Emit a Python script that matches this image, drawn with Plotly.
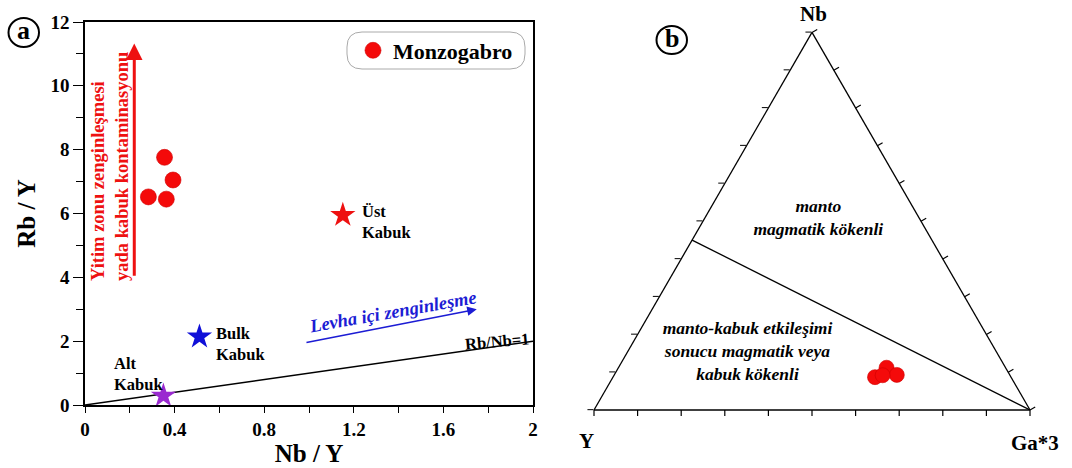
import math
import plotly.graph_objects as go

W, H = 1072, 468

# ---------------- Panel (a) data ----------------
monzo_nb_y = [0.283, 0.363, 0.355, 0.393]
monzo_rb_y = [6.52, 6.45, 7.76, 7.05]

crust_names = ["Üst<br>Kabuk", "Bulk<br>Kabuk", "Alt<br>Kabuk"]
crust_nb_y = [1.151, 0.511, 0.350]
crust_rb_y = [5.95, 2.14, 0.29]
crust_colors = ["#ee1111", "#1010d8", "#9a2ad0"]
crust_label_x = [1.228, 0.575, 0.119]
crust_label_y = [5.72, 1.90, 0.97]

ref_line_nb_y = [0, 2]
ref_line_rb_y = [0, 2]   # Rb/Nb = 1

red_arrow_x = [0.22, 0.22]
red_arrow_y = [4.0, 11.33]
blue_arrow_x = [0.982, 1.749]
blue_arrow_y = [1.95, 3.0]

x_ticks = [0, 0.4, 0.8, 1.2, 1.6, 2]
x_tick_text = ["0", "0.4", "0.8", "1.2", "1.6", "2"]
y_ticks = [0, 2, 4, 6, 8, 10, 12]

# ---------------- Panel (b) data ----------------
tern_nb = [0.087, 0.112, 0.093, 0.092]
tern_y = [0.312, 0.273, 0.259, 0.292]
tern_ga3 = [0.601, 0.615, 0.648, 0.616]

boundary_nb = [0.45, 0.0]
boundary_y = [0.55, 0.0]
boundary_ga3 = [0.0, 1.0]

tern_tick_fracs = [0.0, 0.1, 0.2, 0.3, 0.4, 0.5, 0.6, 0.7, 0.8, 0.9, 1.0]

field_labels = ["<i>manto<br>magmatik kökenli</i>",
                "<i>manto-kabuk etkileşimi<br>sonucu magmatik veya<br>kabuk kökenli</i>"]
field_nb = [0.505, 0.152]
field_y = [0.233, 0.572]
field_ga3 = [0.262, 0.276]

FONT = "Liberation Serif"
ITAL_FONT = "Liberation Serif Bold Italic, Liberation Serif"

# ternary domain in pixels
TX0, TX1, TY0, TY1 = 594, 1030, 31.7, 410.7


def px(x):
    return x / W


def py(y):
    return 1 - y / H


fig = go.Figure()

# Rb/Nb = 1 line
fig.add_trace(go.Scatter(x=ref_line_nb_y, y=ref_line_rb_y, mode="lines",
                         line=dict(color="black", width=1.5),
                         showlegend=False, hoverinfo="skip"))

# crust reference stars
fig.add_trace(go.Scatter(x=crust_nb_y, y=crust_rb_y, mode="markers",
                         marker=dict(symbol="star", size=19, color=crust_colors,
                                     line=dict(width=0)),
                         showlegend=False))

# Monzogabro
fig.add_trace(go.Scatter(x=monzo_nb_y, y=monzo_rb_y, mode="markers",
                         name="Monzogabro",
                         marker=dict(symbol="circle", size=16, color="#f40a0a",
                                     line=dict(color="#d00000", width=0.6))))

# Ternary boundary
fig.add_trace(go.Scatterternary(a=boundary_nb, b=boundary_y, c=boundary_ga3,
                                mode="lines", line=dict(color="black", width=1.3),
                                showlegend=False, hoverinfo="skip"))
# Ternary field labels
fig.add_trace(go.Scatterternary(a=field_nb, b=field_y, c=field_ga3, mode="text",
                                text=field_labels,
                                textfont=dict(family=ITAL_FONT, size=17.5, color="black",
                                              style="italic", weight="bold"),
                                showlegend=False, hoverinfo="skip"))
# Ternary points
fig.add_trace(go.Scatterternary(a=tern_nb, b=tern_y, c=tern_ga3, mode="markers",
                                marker=dict(symbol="circle", size=15, color="#f40a0a",
                                            line=dict(color="#d00000", width=0.6)),
                                showlegend=False))

tick_font = dict(family=FONT, size=19, color="black", weight="bold")
title_font = dict(family=FONT, size=25, color="black", weight="bold")
tern_axis_common = dict(title=dict(text=""), showticklabels=False, dtick=0.1, tick0=0,
                        tickcolor="black", linecolor="black", linewidth=1.3, showgrid=False)

fig.update_layout(
    width=W, height=H,
    margin=dict(l=0, r=0, t=0, b=0, autoexpand=False),
    paper_bgcolor="white", plot_bgcolor="white",
    xaxis=dict(domain=[px(85), px(533)], range=[0, 2], automargin=False,
               tickvals=x_ticks, ticktext=x_tick_text,
               ticks="outside", ticklen=6, tickwidth=1.3, tickcolor="black",
               minor=dict(dtick=0.2, tick0=0, ticks="outside", ticklen=6,
                          tickwidth=1.3, tickcolor="black"),
               showline=True, linecolor="black", linewidth=1.5, mirror=True,
               showgrid=False, zeroline=False, tickfont=tick_font,
               title=dict(text="Nb / Y", font=title_font, standoff=2)),
    yaxis=dict(domain=[py(405), py(22)], range=[0, 12], automargin=False,
               tickvals=y_ticks,
               ticks="outside", ticklen=10, tickwidth=1.3, tickcolor="black",
               minor=dict(dtick=1, tick0=0, ticks="outside", ticklen=7,
                          tickwidth=1.3, tickcolor="black"),
               showline=True, linecolor="black", linewidth=1.5, mirror=True,
               showgrid=False, zeroline=False, tickfont=tick_font,
               title=dict(text="Rb / Y", font=title_font, standoff=8)),
    ternary=dict(
        domain=dict(x=[px(TX0), px(TX1)], y=[py(TY1), py(TY0)]),
        sum=1, bgcolor="white",
        aaxis=dict(ticks="outside", ticklen=6, **tern_axis_common),
        baxis=dict(ticks="", **tern_axis_common),
        caxis=dict(ticks="", **tern_axis_common),
    ),
    legend=dict(x=px(353), y=py(50.5), xanchor="left", yanchor="middle",
                bgcolor="rgba(0,0,0,0)", borderwidth=0,
                font=dict(family=FONT, size=22, color="black", weight="bold")),
    showlegend=True,
)

annotations = []
# red arrow
annotations.append(dict(x=red_arrow_x[1], y=red_arrow_y[1], ax=red_arrow_x[0], ay=red_arrow_y[0],
                        xref="x", yref="y", axref="x", ayref="y", text="",
                        showarrow=True, arrowhead=2, arrowsize=1.1, arrowwidth=3,
                        arrowcolor="#ee1111"))
# red text
annotations.append(dict(x=0.112, y=3.81, xref="x", yref="y",
                        text="Yitim zonu zenginleşmesi<br>yada kabuk kontaminasyonu",
                        textangle=-90, showarrow=False, xanchor="center", yanchor="bottom",
                        align="left",
                        font=dict(family=FONT, size=18.5, color="#ee1111", weight="bold")))
# blue arrow
annotations.append(dict(x=blue_arrow_x[1], y=blue_arrow_y[1], ax=blue_arrow_x[0], ay=blue_arrow_y[0],
                        xref="x", yref="y", axref="x", ayref="y", text="",
                        showarrow=True, arrowhead=2, arrowsize=1.2, arrowwidth=1.6,
                        arrowcolor="#1c1cd4"))
annotations.append(dict(x=1.373, y=2.91, xref="x", yref="y", text="<i>Levha içi zenginleşme</i>",
                        textangle=-10, showarrow=False, xanchor="center", yanchor="middle",
                        font=dict(family=ITAL_FONT, size=18.5, color="#1c1cd4", weight="bold",
                                  style="italic")))
annotations.append(dict(x=1.84, y=1.98, xref="x", yref="y", text="Rb/Nb=1",
                        textangle=-5, showarrow=False, xanchor="center", yanchor="middle",
                        font=dict(family=FONT, size=16.5, color="black", weight="bold")))
for name, lx, ly in zip(crust_names, crust_label_x, crust_label_y):
    annotations.append(dict(x=lx, y=ly, xref="x", yref="y", text=name, showarrow=False,
                            xanchor="left", yanchor="middle", align="left",
                            font=dict(family=FONT, size=16.5, color="black", weight="bold")))
# panel letters
annotations.append(dict(x=px(23.8), y=py(31), xref="paper", yref="paper", text="a",
                        showarrow=False, xanchor="center", yanchor="middle",
                        font=dict(family=FONT, size=26, color="black", weight="bold")))
annotations.append(dict(x=px(671.7), y=py(38.5), xref="paper", yref="paper", text="b",
                        showarrow=False, xanchor="center", yanchor="middle",
                        font=dict(family=FONT, size=26, color="black", weight="bold")))
# ternary apex titles
for t, xx, yy in [("Nb", 813, 14), ("Y", 586, 441), ("Ga*3", 1035, 443)]:
    annotations.append(dict(x=px(xx), y=py(yy), xref="paper", yref="paper", text=t,
                            showarrow=False, xanchor="center", yanchor="middle",
                            font=dict(family=FONT, size=21, color="black", weight="bold")))
fig.update_layout(annotations=annotations)

# shapes: circles around letters, rounded legend box
shapes = [
    dict(type="circle", xref="paper", yref="paper", x0=px(8.5), x1=px(39), y0=py(47), y1=py(18),
         line=dict(color="black", width=2)),
    dict(type="circle", xref="paper", yref="paper", x0=px(656.5), x1=px(687), y0=py(54), y1=py(26),
         line=dict(color="black", width=2)),
]


def rounded_path(x0, y0, x1, y1, r):
    pts = [
        ("M", [(x0 + r, y0)]),
        ("L", [(x1 - r, y0)]),
        ("Q", [(x1, y0), (x1, y0 + r)]),
        ("L", [(x1, y1 - r)]),
        ("Q", [(x1, y1), (x1 - r, y1)]),
        ("L", [(x0 + r, y1)]),
        ("Q", [(x0, y1), (x0, y1 - r)]),
        ("L", [(x0, y0 + r)]),
        ("Q", [(x0, y0), (x0 + r, y0)]),
    ]
    s = ""
    for cmd, ps in pts:
        s += cmd + " " + " ".join(f"{px(a):.5f},{py(b):.5f}" for a, b in ps) + " "
    return s + "Z"


shapes.append(dict(type="path", xref="paper", yref="paper",
                   path=rounded_path(347, 32, 525, 69, 15),
                   line=dict(color="#aaaaaa", width=1), layer="below"))

# ternary ticks on the bottom (vertical) and right edge (perpendicular), from triangle geometry
tri_w = TX1 - TX0
tri_h = tri_w * math.sqrt(3) / 2
top_y = TY0 + ((TY1 - TY0) - tri_h) / 2
bot_y = top_y + tri_h
left_v = (TX0, bot_y)
right_v = (TX1, bot_y)
apex_v = (TX0 + tri_w / 2, top_y)
TL = 6
for f in tern_tick_fracs:
    bx = left_v[0] + f * tri_w
    shapes.append(dict(type="line", xref="paper", yref="paper",
                       x0=px(bx), x1=px(bx), y0=py(bot_y), y1=py(bot_y + TL),
                       line=dict(color="black", width=1.2)))
    rx = right_v[0] + f * (apex_v[0] - right_v[0])
    ry = right_v[1] + f * (apex_v[1] - right_v[1])
    shapes.append(dict(type="line", xref="paper", yref="paper",
                       x0=px(rx), x1=px(rx + TL * math.cos(math.radians(30))),
                       y0=py(ry), y1=py(ry - TL * math.sin(math.radians(30))),
                       line=dict(color="black", width=1.2)))
fig.update_layout(shapes=shapes)

fig.write_html("out.html", config={"displayModeBar": False},
               post_script="document.body.style.margin='0';")
